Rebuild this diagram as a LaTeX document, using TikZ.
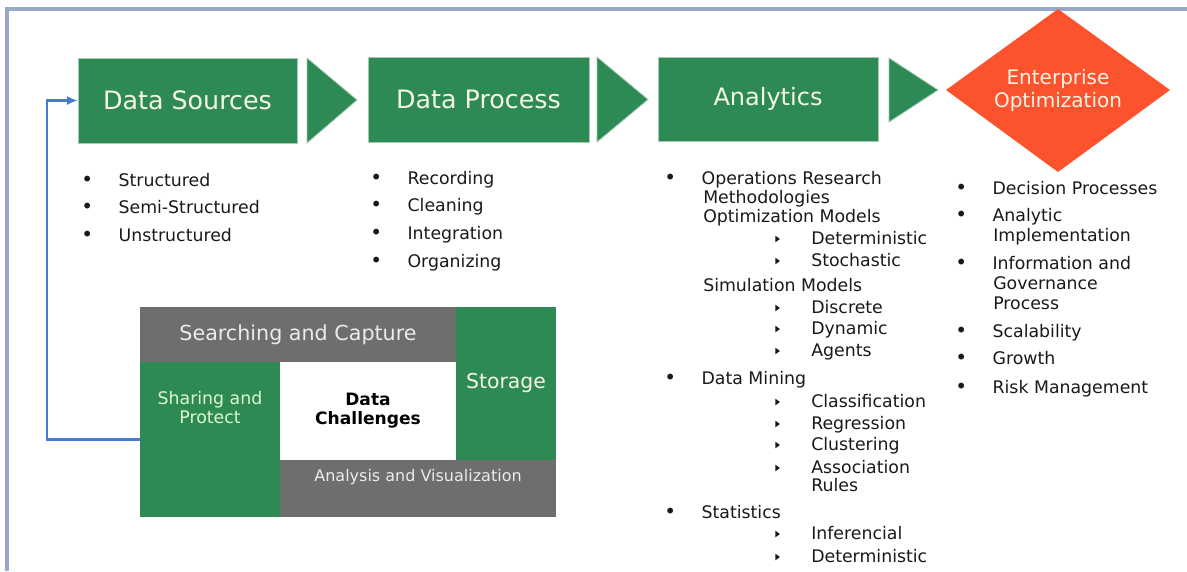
\documentclass[tikz,border=0pt]{standalone}
\usepackage{fontspec}
\setmainfont{DejaVu Sans}
\usetikzlibrary{arrows.meta}

\definecolor{boxgreen}{RGB}{46,138,85}
\definecolor{optorange}{RGB}{252,82,45}
\definecolor{cellgray}{RGB}{110,110,110}
\definecolor{framegray}{RGB}{150,170,200}
\definecolor{loopblue}{RGB}{70,125,210}
\definecolor{cream}{RGB}{245,245,228}
\definecolor{ink}{RGB}{25,25,25}

\newcommand{\bul}{\makebox[28pt][l]{\fontsize{15pt}{15pt}\selectfont •}}
\newcommand{\tri}{\makebox[27pt][l]{\tikz[baseline=0pt]\fill[ink] (0pt,1.5pt) -- (0pt,6.5pt) -- (3.5pt,4pt) -- cycle;}}

\tikzset{
  stage/.style={rectangle,fill=boxgreen,draw=boxgreen!45,line width=0.6pt,text=cream,inner sep=0pt,font=\fontsize{19pt}{22pt}\selectfont},
  chevron/.style={fill=boxgreen,draw=boxgreen!45,line width=0.6pt},
  cell/.style={rectangle,inner sep=0pt,outer sep=0pt},
  item/.style={anchor=west,inner sep=0pt,text=ink,text height=9.5pt,text depth=0pt,font=\fontsize{13pt}{15pt}\selectfont},
  feedback/.style={draw=loopblue,line width=2pt,-{Latex[length=8pt,width=7pt]}}
}

\begin{document}
\begin{tikzpicture}[x=0.75pt,y=-0.75pt]
\useasboundingbox (0,0) rectangle (1187,571);
\draw[framegray,line width=2.4pt] (7,571) -- (7,9) -- (1187,9);

% stages
\node (src) at (187.5,100.5) [stage,minimum width=164.25pt,minimum height=63.75pt] {Data Sources};
\draw[chevron] (307,58) -- (357,100) -- (307,143) -- cycle;
\node (proc) at (478.5,99.5) [stage,minimum width=165.75pt,minimum height=63.75pt] {Data Process};
\draw[chevron] (597,57) -- (648,99.5) -- (597,142) -- cycle;
\node (ana) at (768,99) [stage,minimum width=165pt,minimum height=63pt,font=\fontsize{18pt}{21pt}\selectfont] {Analytics};
\draw[chevron] (889,58) -- (938,90) -- (889,122) -- cycle;
\fill[optorange] (946,90) -- (1058,9) -- (1170,90) -- (1058,172) -- cycle;
\node (opt) at (1058,90.5) [align=center,text=cream,font=\fontsize{15pt}{17.25pt}\selectfont] {Enterprise\\Optimization};

% data sources
\node (s1) at (81,180) [item] {\bul Structured};
\node (s2) at (81,207) [item] {\bul Semi-Structured};
\node (s3) at (81,235) [item] {\bul Unstructured};

% data process
\node (p1) at (370,178) [item] {\bul Recording};
\node (p2) at (370,205) [item] {\bul Cleaning};
\node (p3) at (370,233) [item] {\bul Integration};
\node (p4) at (370,261) [item] {\bul Organizing};

% analytics
\node (a1) at (664,178) [item] {\bul Operations Research};
\node (a1b) at (703,197) [item] {Methodologies};
\node (a1c) at (703,216) [item] {Optimization Models};
\node (a11) at (775,238) [item] {\tri Deterministic};
\node (a12) at (775,260) [item] {\tri Stochastic};
\node (a1d) at (703,285) [item] {Simulation Models};
\node (a13) at (775,307) [item] {\tri Discrete};
\node (a14) at (775,328) [item] {\tri Dynamic};
\node (a15) at (775,350) [item] {\tri Agents};
\node (a2) at (664,378) [item] {\bul Data Mining};
\node (a21) at (775,401) [item] {\tri Classification};
\node (a22) at (775,423) [item] {\tri Regression};
\node (a23) at (775,444) [item] {\tri Clustering};
\node (a24) at (775,467) [item] {\tri Association};
\node (a24b) at (811,485) [item] {Rules};
\node (a3) at (664,512) [item] {\bul Statistics};
\node (a31) at (775,533) [item] {\tri Inferencial};
\node (a32) at (775,556) [item] {\tri Deterministic};

% enterprise optimization
\node (o1) at (955,188) [item] {\bul Decision Processes};
\node (o2) at (955,215) [item] {\bul Analytic};
\node (o2b) at (993,235) [item] {Implementation};
\node (o3) at (955,263) [item] {\bul Information and};
\node (o3b) at (993,283) [item] {Governance};
\node (o3c) at (993,303) [item] {Process};
\node (o4) at (955,331) [item] {\bul Scalability};
\node (o5) at (955,358) [item] {\bul Growth};
\node (o6) at (955,387) [item] {\bul Risk Management};

% data challenges
\node (search) at (298,334.5) [cell,fill=cellgray,minimum width=237pt,minimum height=41.25pt,text=white!92!black,font=\fontsize{15.5pt}{18pt}\selectfont] {Searching and Capture};
\node (store) at (506,383.5) [cell,fill=boxgreen,minimum width=75pt,minimum height=114.75pt,text=cream,font=\fontsize{15.3pt}{18pt}\selectfont] {Storage};
\node (share) at (210,439.5) [cell,fill=boxgreen,minimum width=105pt,minimum height=116.25pt] {};
\node (core) at (368,411) [cell,fill=white,minimum width=132pt,minimum height=73.5pt,align=center,font=\bfseries\fontsize{12.8pt}{14.25pt}\selectfont] {Data\\Challenges};
\node (visual) at (418,488.5) [cell,fill=cellgray,minimum width=207pt,minimum height=42.75pt] {};
\node (sharetxt) at (210,407.5) [align=center,text=green!10!cream,font=\fontsize{13pt}{14.25pt}\selectfont] {Sharing and\\Protect};
\node (vistxt) at (418,477) [text=white!92!black,font=\fontsize{12pt}{14pt}\selectfont] {Analysis and Visualization};

\draw[feedback] (share.west) -- ++(-93,0) |- (src.west);
\end{tikzpicture}
\end{document}
